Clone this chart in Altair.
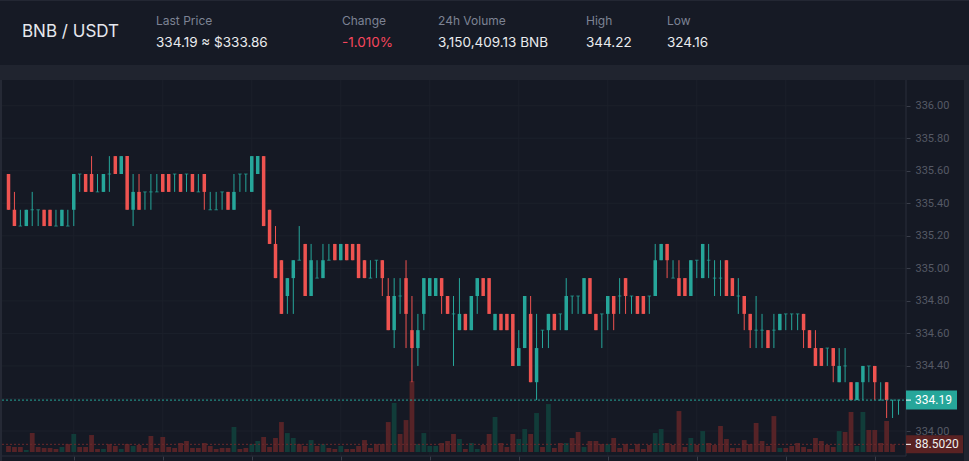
import altair as alt
import pandas as pd

# ---------------- data ----------------
OPEN = [335.58, 335.36, 335.26, 335.26, 335.36, 335.36, 335.36, 335.36, 335.26, 335.26,
        335.26, 335.36, 335.58, 335.58, 335.58, 335.47, 335.47, 335.58, 335.69, 335.58,
        335.69, 335.36, 335.47, 335.47, 335.47, 335.47, 335.58, 335.58, 335.58, 335.58,
        335.58, 335.58, 335.47, 335.58, 335.36, 335.36, 335.47, 335.47, 335.36, 335.58,
        335.58, 335.47, 335.58, 335.69, 335.36, 335.15, 335.05, 334.83, 334.94, 335.05,
        335.15, 334.83, 334.94, 334.94, 335.05, 335.15, 335.05, 335.15, 335.15, 335.15,
        335.05, 334.94, 335.05, 335.05, 334.83, 334.62, 334.83, 334.94, 334.62, 334.51,
        334.72, 334.83, 334.83, 334.94, 334.83, 334.72, 334.62, 334.72, 334.62, 334.83,
        334.94, 334.94, 334.62, 334.72, 334.72, 334.72, 334.40, 334.51, 334.72, 334.30,
        334.62, 334.62, 334.72, 334.72, 334.62, 334.83, 334.83, 334.72, 334.94, 334.72,
        334.72, 334.72, 334.83, 334.83, 334.94, 334.83, 334.83, 334.83, 334.83, 334.83,
        335.05, 335.15, 334.94, 334.94, 334.94, 334.83, 335.05, 334.94, 335.05, 334.94,
        334.94, 335.05, 334.94, 334.83, 334.83, 334.72, 334.62, 334.62, 334.62, 334.62,
        334.62, 334.72, 334.72, 334.72, 334.72, 334.62, 334.51, 334.51, 334.51, 334.51,
        334.30, 334.40, 334.30, 334.19, 334.30, 334.40, 334.40, 334.19, 334.30, 334.19,
        334.19]
HIGH = [335.58, 335.47, 335.36, 335.36, 335.47, 335.36, 335.36, 335.36, 335.36, 335.36,
        335.36, 335.58, 335.58, 335.58, 335.69, 335.58, 335.58, 335.69, 335.69, 335.69,
        335.69, 335.58, 335.58, 335.47, 335.58, 335.58, 335.58, 335.58, 335.58, 335.58,
        335.58, 335.58, 335.58, 335.58, 335.47, 335.47, 335.47, 335.47, 335.58, 335.58,
        335.58, 335.69, 335.69, 335.69, 335.36, 335.26, 335.05, 334.94, 335.05, 335.26,
        335.15, 335.15, 335.05, 335.15, 335.15, 335.15, 335.15, 335.15, 335.15, 335.15,
        335.05, 335.05, 335.05, 335.05, 334.94, 334.94, 334.94, 335.05, 334.83, 334.72,
        334.94, 334.94, 334.94, 334.94, 334.83, 334.83, 334.94, 334.72, 334.83, 334.94,
        334.94, 334.94, 334.72, 334.72, 334.72, 334.72, 334.62, 334.83, 334.83, 334.72,
        334.62, 334.72, 334.72, 334.72, 334.94, 334.83, 334.83, 334.94, 334.94, 334.72,
        334.72, 334.83, 334.83, 334.94, 334.94, 334.83, 334.83, 334.83, 334.83, 335.15,
        335.15, 335.15, 335.05, 335.05, 334.94, 335.05, 335.05, 335.15, 335.15, 335.05,
        335.05, 335.05, 334.94, 334.94, 334.83, 334.72, 334.83, 334.72, 334.62, 334.72,
        334.72, 334.72, 334.72, 334.72, 334.72, 334.62, 334.62, 334.51, 334.51, 334.51,
        334.51, 334.51, 334.30, 334.30, 334.40, 334.40, 334.40, 334.30, 334.30, 334.19,
        334.19]
LOW = [335.36, 335.26, 335.26, 335.26, 335.26, 335.26, 335.26, 335.26, 335.26, 335.26,
       335.26, 335.26, 335.47, 335.47, 335.47, 335.47, 335.47, 335.47, 335.58, 335.58,
       335.36, 335.26, 335.36, 335.36, 335.36, 335.47, 335.47, 335.47, 335.47, 335.47,
       335.47, 335.47, 335.47, 335.36, 335.36, 335.36, 335.36, 335.36, 335.36, 335.47,
       335.47, 335.47, 335.58, 335.26, 335.15, 334.94, 334.72, 334.72, 334.72, 335.05,
       334.83, 334.83, 334.94, 334.94, 335.05, 335.05, 335.05, 335.05, 335.05, 334.94,
       334.94, 334.94, 334.94, 334.83, 334.62, 334.51, 334.72, 334.51, 334.30, 334.40,
       334.62, 334.83, 334.83, 334.72, 334.72, 334.40, 334.62, 334.62, 334.62, 334.72,
       334.83, 334.72, 334.62, 334.62, 334.62, 334.40, 334.40, 334.51, 334.30, 334.19,
       334.51, 334.51, 334.62, 334.62, 334.62, 334.72, 334.72, 334.72, 334.72, 334.62,
       334.51, 334.62, 334.62, 334.72, 334.72, 334.72, 334.72, 334.72, 334.72, 334.83,
       335.05, 334.94, 334.94, 334.83, 334.83, 334.83, 334.94, 334.94, 334.94, 334.83,
       334.83, 334.83, 334.83, 334.72, 334.62, 334.51, 334.51, 334.51, 334.51, 334.51,
       334.62, 334.62, 334.62, 334.62, 334.51, 334.51, 334.40, 334.40, 334.40, 334.30,
       334.30, 334.30, 334.19, 334.19, 334.19, 334.30, 334.19, 334.19, 334.08, 334.08,
       334.10]
CLOSE = [335.36, 335.26, 335.26, 335.36, 335.36, 335.36, 335.26, 335.26, 335.26, 335.36,
         335.26, 335.58, 335.58, 335.47, 335.47, 335.47, 335.58, 335.58, 335.58, 335.69,
         335.36, 335.47, 335.36, 335.47, 335.47, 335.47, 335.47, 335.47, 335.58, 335.47,
         335.58, 335.47, 335.47, 335.47, 335.36, 335.36, 335.47, 335.36, 335.47, 335.58,
         335.58, 335.69, 335.69, 335.26, 335.15, 334.94, 334.72, 334.94, 335.05, 335.05,
         334.83, 335.05, 334.94, 335.05, 335.05, 335.05, 335.15, 335.05, 335.05, 334.94,
         334.94, 334.94, 335.05, 334.94, 334.62, 334.83, 334.83, 334.72, 334.51, 334.62,
         334.94, 334.94, 334.94, 334.83, 334.72, 334.72, 334.72, 334.62, 334.83, 334.94,
         334.83, 334.72, 334.72, 334.62, 334.62, 334.40, 334.51, 334.83, 334.30, 334.51,
         334.62, 334.72, 334.62, 334.72, 334.83, 334.83, 334.83, 334.94, 334.72, 334.62,
         334.72, 334.83, 334.72, 334.83, 334.83, 334.83, 334.72, 334.72, 334.83, 335.05,
         335.15, 335.05, 334.94, 334.83, 334.83, 335.05, 335.05, 335.15, 335.05, 334.94,
         334.94, 334.83, 334.83, 334.83, 334.72, 334.62, 334.62, 334.62, 334.51, 334.62,
         334.72, 334.72, 334.72, 334.72, 334.62, 334.51, 334.40, 334.40, 334.51, 334.40,
         334.40, 334.40, 334.19, 334.30, 334.40, 334.40, 334.30, 334.19, 334.19, 334.19,
         334.19]
VOLUME = [69, 58, 58, 23, 219, 58, 46, 46, 35, 58,
          92, 208, 58, 58, 196, 35, 35, 92, 69, 35,
          92, 69, 81, 46, 185, 46, 173, 58, 46, 104,
          127, 46, 46, 104, 69, 35, 46, 46, 289, 35,
          46, 92, 127, 173, 58, 162, 346, 219, 162, 92,
          69, 138, 69, 92, 46, 35, 69, 35, 35, 69,
          138, 46, 92, 92, 346, 566, 208, 369, 819, 92,
          219, 69, 69, 104, 127, 208, 150, 35, 104, 35,
          81, 208, 404, 104, 58, 208, 150, 265, 208, 450,
          58, 554, 46, 104, 104, 162, 231, 58, 127, 127,
          92, 92, 162, 46, 92, 35, 92, 35, 81, 219,
          265, 104, 81, 473, 58, 162, 81, 242, 104, 81,
          300, 150, 46, 46, 138, 92, 335, 127, 69, 415,
          46, 46, 69, 104, 58, 35, 162, 127, 81, 58,
          242, 231, 462, 69, 462, 254, 254, 104, 358, 88.502,
          0]

# grid levels; the 334.20 label sits behind the last-price badge, so it is not labelled
PRICE_GRID = [334.0, 334.2, 334.4, 334.6, 334.8, 335.0, 335.2, 335.4, 335.6, 335.8, 336.0]
PRICE_LABELS = [334.0, 334.4, 334.6, 334.8, 335.0, 335.2, 335.4, 335.6, 335.8, 336.0]
TIME_TICKS = [11, 26, 41, 56, 71, 86, 101, 116, 131, 146]
LAST_PRICE = [334.19]
LAST_PRICE_LABEL = ["334.19"]
LAST_VOLUME = [88.502]
LAST_VOLUME_LABEL = ["88.5020"]
PAIR = ["BNB / USDT"]
STAT_LABELS = ["Last Price", "Change", "24h Volume", "High", "Low"]
STAT_VALUES = ["334.19 ≈ $333.86", "-1.010%", "3,150,409.13 BNB", "344.22", "324.16"]

# ---------------- layout / style ----------------
W, H = 969, 461
STAT_X = [156, 342, 438, 586, 667]
BG = "#151924"
HEADER_BG = "#161a25"
STRIP = "#20242f"
GRID = "#1c202b"
AXIS_LINE = "#2b2f3b"
LABEL = "#565a66"
UP = "#26a69a"
DOWN = "#ef5350"
VUP = "#113c39"
VDOWN = "#562327"
FONT = "Inter"
AXFONT = "Roboto"

n = len(OPEN)
df = pd.DataFrame({"i": list(range(n)), "open": OPEN, "high": HIGH, "low": LOW,
                   "close": CLOSE, "volume": VOLUME})
df["c"] = [UP if c >= o else DOWN for o, c in zip(OPEN, CLOSE)]
df["vc"] = [VUP if c > o else VDOWN for o, c in zip(OPEN, CLOSE)]
bodies = df[df["open"] != df["close"]]
dojis = df[df["open"] == df["close"]]
vols = df[df["volume"] > 0]

xs = alt.Scale(domain=[0, n - 1], range=[3.5, 903.5], nice=False, zero=False)
ps = alt.Scale(domain=[334, 336], range=[431, 105.7], nice=False, zero=False)
vs = alt.Scale(domain=[0, 820], range=[452, 381], nice=False)

xaxis = alt.Axis(values=TIME_TICKS, labels=False, ticks=True, tickSize=4,
                 tickColor="#3a3e4a", domain=False, grid=False, offset=-5, title=None)
X = alt.X("i:Q", scale=xs, axis=xaxis)

one = pd.DataFrame({"k": [0]})


def box(x0, x1, y0, y1, color):
    return alt.Chart(one).mark_rect(color=color).encode(
        x=alt.value(x0), x2=alt.value(x1), y=alt.value(y0), y2=alt.value(y1))


def line(x0, x1, y0, y1, color):
    return alt.Chart(one).mark_rule(color=color, strokeWidth=1).encode(
        x=alt.value(x0), x2=alt.value(x1), y=alt.value(y0), y2=alt.value(y1))


# backgrounds
header = box(0, W, 0, 65, HEADER_BG)
top_line = box(0, W, 0, 1, "#232733")
strip_top = box(0, W, 65, 80, STRIP)
strip_left = box(0, 2, 80, H, "#252935")
strip_right = box(964, W, 80, H, STRIP)

# grid
grid_h = alt.Chart(pd.DataFrame({"p": PRICE_GRID})).mark_rule(color=GRID, strokeWidth=1).encode(
    y=alt.Y("p:Q", scale=ps, axis=None), x=alt.value(2), x2=alt.value(906))
grid_v = alt.Chart(pd.DataFrame({"i": TIME_TICKS})).mark_rule(color=GRID, strokeWidth=1).encode(
    x=X, y=alt.value(80), y2=alt.value(456))

# volume
vol_bars = alt.Chart(vols).mark_bar(size=4.8).encode(
    x=X, y=alt.Y("volume:Q", scale=vs, axis=None), color=alt.Color("vc:N", scale=None))
lv = pd.DataFrame({"v": LAST_VOLUME, "label": LAST_VOLUME_LABEL})
vol_line = alt.Chart(lv).mark_rule(color="#6b2a2c", strokeDash=[2, 2], strokeWidth=1).encode(
    y=alt.Y("v:Q", scale=vs, axis=None), x=alt.value(2), x2=alt.value(906))

# candles
wicks = alt.Chart(df).mark_rule(strokeWidth=1).encode(
    x=X, y=alt.Y("low:Q", scale=ps, axis=None), y2="high:Q", color=alt.Color("c:N", scale=None))
paxis = alt.Axis(values=PRICE_LABELS, format=".2f", orient="right", offset=-(W - 906),
                 domain=False, grid=False, ticks=True, tickSize=4, tickColor="#3a3e4a",
                 labelColor=LABEL, labelFont=AXFONT, labelFontSize=11, labelPadding=5,
                 title=None, labelBound=False, labelOverlap=False)
body_bars = alt.Chart(bodies).mark_bar(size=3.5).encode(
    x=X, y=alt.Y("open:Q", scale=ps, axis=paxis), y2="close:Q", color=alt.Color("c:N", scale=None))
doji_ticks = alt.Chart(dojis).mark_tick(orient="horizontal", size=3.5, thickness=1).encode(
    x=X, y=alt.Y("close:Q", scale=ps, axis=None), color=alt.Color("c:N", scale=None))

lp = pd.DataFrame({"p": LAST_PRICE, "label": LAST_PRICE_LABEL})
price_line = alt.Chart(lp).mark_rule(color=UP, strokeDash=[2, 2], strokeWidth=1).encode(
    y=alt.Y("p:Q", scale=ps, axis=None), x=alt.value(2), x2=alt.value(906))

# axis frame
right_border = line(906, 906, 80, 456, AXIS_LINE)
bottom_border = line(2, 906, 456, 456, AXIS_LINE)

# last value badges
price_box = alt.Chart(lp).mark_rect(color=UP, yOffset=-9.5, y2Offset=9.5).encode(
    x=alt.value(906), x2=alt.value(957), y=alt.Y("p:Q", scale=ps, axis=None), y2="p:Q")
price_tick = alt.Chart(lp).mark_rule(color="#ffffff", strokeWidth=1).encode(
    x=alt.value(906), x2=alt.value(911), y=alt.Y("p:Q", scale=ps, axis=None))
price_text = alt.Chart(lp).mark_text(align="left", baseline="middle", color="#ffffff",
                                     font=AXFONT, fontSize=12).encode(
    x=alt.value(915), y=alt.Y("p:Q", scale=ps, axis=None), text="label:N")

vol_box = alt.Chart(lv).mark_rect(color="#5a2223", yOffset=-9, y2Offset=9).encode(
    x=alt.value(906), x2=alt.value(963), y=alt.Y("v:Q", scale=vs, axis=None), y2="v:Q")
vol_tick = alt.Chart(lv).mark_rule(color="#ffffff", strokeWidth=1).encode(
    x=alt.value(906), x2=alt.value(911), y=alt.Y("v:Q", scale=vs, axis=None))
vol_text = alt.Chart(lv).mark_text(align="left", baseline="middle", color="#f0f0f0",
                                   font=AXFONT, fontSize=12).encode(
    x=alt.value(915), y=alt.Y("v:Q", scale=vs, axis=None), text="label:N")

# header texts
title = alt.Chart(pd.DataFrame({"t": PAIR})).mark_text(
    align="left", baseline="middle", color="#e6e8ee", font=FONT, fontSize=17).encode(
    x=alt.value(22), y=alt.value(32), text="t:N")

stats = pd.DataFrame({"label": STAT_LABELS, "value": STAT_VALUES, "x": STAT_X,
                      "col": ["#eaecef", "#f6465d", "#eaecef", "#eaecef", "#eaecef"]})
stat_labels = alt.Chart(stats).mark_text(
    align="left", baseline="middle", color="#7d8394", font=FONT, fontSize=12).encode(
    x=alt.X("x:Q", scale=None, axis=None), y=alt.value(21), text="label:N")
stat_values = alt.Chart(stats).mark_text(
    align="left", baseline="middle", font=FONT, fontSize=13.5).encode(
    x=alt.X("x:Q", scale=None, axis=None), y=alt.value(43), text="value:N",
    color=alt.Color("col:N", scale=None))

chart = alt.layer(
    header, top_line, strip_top, strip_left, strip_right,
    grid_h, grid_v,
    vol_bars, vol_line,
    wicks, body_bars, doji_ticks, price_line,
    right_border, bottom_border,
    price_box, price_tick, price_text,
    vol_box, vol_tick, vol_text,
    title, stat_labels, stat_values,
).resolve_scale(y="independent").properties(
    width=W, height=H, padding=0, autosize=alt.AutoSizeParams(type="none")
).configure(background=BG).configure_view(stroke=None)

chart.save("out.html", embed_options={"renderer": "svg", "actions": False})
